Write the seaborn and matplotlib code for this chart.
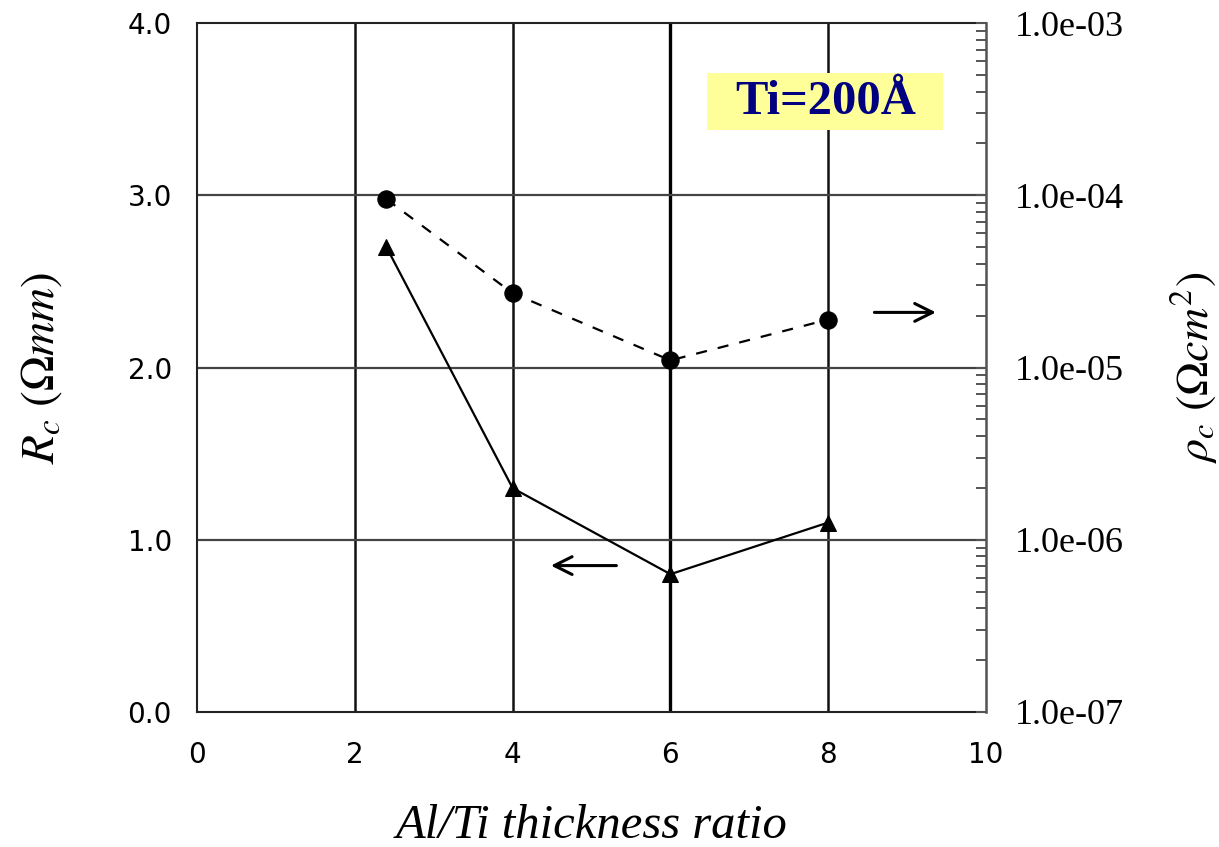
import matplotlib
matplotlib.use("Agg")
import matplotlib.pyplot as plt
import matplotlib.ticker as mticker
from matplotlib.patches import Rectangle
import seaborn as sns
import pandas as pd

# Data
ratio = [2.4, 4, 6, 8]
rc_ohm_mm = [2.70, 1.30, 0.80, 1.10]          # left axis, triangles, solid
rho_c = [9.5e-5, 2.7e-5, 1.1e-5, 1.9e-5]      # right axis (log), circles, dashed
x_ticks = [0, 2, 4, 6, 8, 10]
y_ticks = [0.0, 1.0, 2.0, 3.0, 4.0]
r_ticks = [1e-7, 1e-6, 1e-5, 1e-4, 1e-3]

df_rc = pd.DataFrame({"ratio": ratio, "rc": rc_ohm_mm})
df_rho = pd.DataFrame({"ratio": ratio, "rho": rho_c})

sns.set_style("white")
plt.rcParams["font.family"] = ["DejaVu Sans"]
plt.rcParams["mathtext.fontset"] = "stix"

fig = plt.figure(figsize=(12.19, 8.47), dpi=100)
ax = fig.add_axes([0.1616, 0.1594, 0.8089 - 0.1616, 0.9728 - 0.1594])
ax2 = ax.twinx()

# grid
for xv in [2, 4, 8]:
    ax.axvline(xv, color="#111111", lw=1.8, zorder=0)
ax.axvline(6, color="#000000", lw=2.4, zorder=0)
for yv in [1, 2, 3]:
    ax.axhline(yv, color="#444444", lw=1.6, zorder=0)

sns.lineplot(data=df_rc, x="ratio", y="rc", ax=ax, color="black", lw=1.6,
             marker="^", markersize=12, markeredgecolor="black", zorder=3)
sns.lineplot(data=df_rho, x="ratio", y="rho", ax=ax2, color="black", lw=1.6,
             linestyle=(0, (5, 5)), marker="o", markersize=12.5,
             markeredgecolor="black", zorder=3)

ax.set_xlim(0, 10)
ax.set_ylim(0, 4)
ax.set_xticks(x_ticks)
ax.set_yticks(y_ticks)
ax.yaxis.set_major_formatter(mticker.FormatStrFormatter("%.1f"))
ax.tick_params(axis="both", length=0, labelsize=20, colors="black",
               labelcolor="black")
ax.tick_params(axis="y", pad=18)
ax.tick_params(axis="x", pad=21)
ax.grid(False)

ax2.set_yscale("log")
ax2.set_ylim(1e-7, 1e-3)
ax2.set_yticks(r_ticks)
ax2.yaxis.set_major_formatter(mticker.FuncFormatter(lambda v, p: f"{v:.1e}"))
ax2.yaxis.set_minor_locator(mticker.LogLocator(base=10, subs=range(2, 10)))
ax2.yaxis.set_minor_formatter(mticker.NullFormatter())
ax2.tick_params(axis="y", which="major", direction="in", length=7, width=1.4,
                pad=21, color="#555555", labelcolor="black")
ax2.tick_params(axis="y", which="minor", direction="in", length=7, width=1.4,
                color="#555555")
for lab in ax2.get_yticklabels():
    lab.set_fontfamily("Liberation Serif")
    lab.set_fontsize(26)
ax2.grid(False)

for s in ["left", "bottom", "top"]:
    ax.spines[s].set_color("#222222")
    ax.spines[s].set_linewidth(1.5)
ax2.spines["right"].set_color("#555555")
ax2.spines["right"].set_linewidth(1.8)
for s in ["left", "bottom", "top"]:
    ax2.spines[s].set_visible(False)

ax.set_xlabel("Al/Ti thickness ratio", fontfamily="Liberation Serif",
              fontstyle="italic", fontsize=35, labelpad=25, color="black")
ax.set_ylabel(r"$R_c\ (\Omega mm)$", fontsize=34, color="black")
ax.yaxis.set_label_coords(-0.168, 0.5)
ax2.set_ylabel(r"$\rho_c\ (\Omega cm^2)$", fontsize=33, color="black")
ax2.yaxis.set_label_coords(1.232, 0.5)

# direction arrows
ax.annotate("", xy=(9.4, 2.32), xytext=(8.55, 2.32),
            arrowprops=dict(arrowstyle="->", lw=2.2, color="black",
                            mutation_scale=32))
ax.annotate("", xy=(4.45, 0.85), xytext=(5.35, 0.85),
            arrowprops=dict(arrowstyle="->", lw=2.2, color="black",
                            mutation_scale=32))

ax.add_patch(Rectangle((0.6464, 0.8447), 0.2991, 0.0827,
                       transform=ax.transAxes, facecolor="#ffff99",
                       edgecolor="none", zorder=4))
ax.text(0.797, 0.885, "Ti=200Å", transform=ax.transAxes,
        fontfamily="Liberation Serif", fontweight="bold", fontsize=35,
        color="#000080", ha="center", va="center", zorder=5)

fig.savefig("out.png", dpi=100)
